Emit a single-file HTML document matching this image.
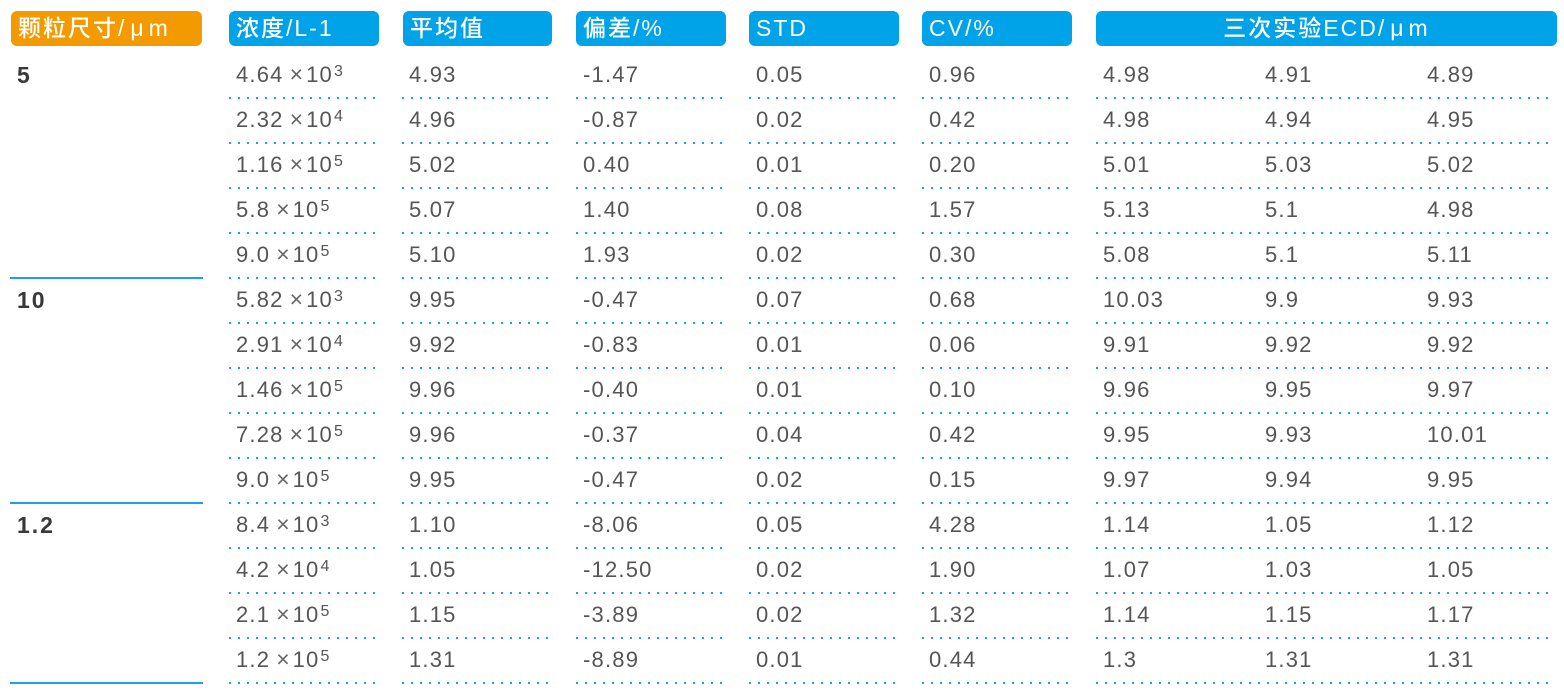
<!DOCTYPE html>
<html>
<head>
<meta charset="utf-8">
<style>
html,body{margin:0;padding:0;background:#fff;}
body{width:1564px;height:700px;position:relative;overflow:hidden;font-family:"Liberation Sans","Noto Sans CJK SC",sans-serif;}
.h{position:absolute;top:11px;height:35px;line-height:35px;border-radius:6px;background:#00a2e8;color:#fff;font-size:23px;font-weight:500;letter-spacing:2px;padding-left:7px;box-sizing:border-box;white-space:nowrap;font-family:"Liberation Sans","Noto Sans CJK SC",sans-serif;}
.h.o{background:#f39a00;}
.mu{margin:0 3px 0 4px;}
.row{position:absolute;left:0;width:1564px;height:45px;}
.t{position:absolute;top:10px;line-height:24px;font-size:22px;letter-spacing:1.2px;color:#555;white-space:nowrap;}
.g{position:absolute;top:10px;left:17px;line-height:24px;font-size:23px;font-weight:bold;color:#383838;letter-spacing:2px;}
.x{font-family:"Liberation Sans",sans-serif;font-size:23px;letter-spacing:0;margin-left:6px;margin-right:3px;line-height:20px;color:#666;}
.s{font-size:16px;position:relative;top:-6px;letter-spacing:0;margin-left:1px;}
.d{position:absolute;top:44px;height:2px;background:linear-gradient(to right,#1ba1e6 0,#1ba1e6 2px,transparent 2px,transparent 9px);background-size:9px 2px;background-repeat:repeat-x;}
.d1{left:229px;width:149px;}
.d2{left:402px;width:150px;}
.d3{left:576px;width:150px;}
.d4{left:749px;width:150px;}
.d5{left:922px;width:150px;}
.d6{left:1096px;width:458px;}
.c1{left:236px}.c2{left:409px}.c3{left:583px}.c4{left:756px}.c5{left:929px}.e1{left:1103px}.e2{left:1265px}.e3{left:1427px}
.sl{position:absolute;left:10px;width:193px;height:2px;background:#1ba1e6;}
</style>
</head>
<body>
<div class="h o" style="left:11px;width:191px;">颗粒尺寸/<span class="mu">μ</span>m</div>
<div class="h" style="left:229px;width:150px;">浓度/L-1</div>
<div class="h" style="left:403px;width:149px;">平均值</div>
<div class="h" style="left:576px;width:150px;">偏差/%</div>
<div class="h" style="left:749px;width:150px;">STD</div>
<div class="h" style="left:922px;width:150px;">CV/%</div>
<div class="h" style="left:1096px;width:461px;padding-left:0;text-align:center;">三次实验ECD/<span class="mu">μ</span>m</div>

<div class="sl" style="top:277px"></div>
<div class="sl" style="top:502px"></div>
<div class="sl" style="top:682px"></div>

<div class="row" style="top:53px"><span class="g">5</span>
<span class="t c1">4.64<span class="x">×</span>10<span class="s">3</span></span><span class="t c2">4.93</span><span class="t c3">-1.47</span><span class="t c4">0.05</span><span class="t c5">0.96</span><span class="t e1">4.98</span><span class="t e2">4.91</span><span class="t e3">4.89</span>
<div class="d d1"></div><div class="d d2"></div><div class="d d3"></div><div class="d d4"></div><div class="d d5"></div><div class="d d6"></div></div>

<div class="row" style="top:98px">
<span class="t c1">2.32<span class="x">×</span>10<span class="s">4</span></span><span class="t c2">4.96</span><span class="t c3">-0.87</span><span class="t c4">0.02</span><span class="t c5">0.42</span><span class="t e1">4.98</span><span class="t e2">4.94</span><span class="t e3">4.95</span>
<div class="d d1"></div><div class="d d2"></div><div class="d d3"></div><div class="d d4"></div><div class="d d5"></div><div class="d d6"></div></div>

<div class="row" style="top:143px">
<span class="t c1">1.16<span class="x">×</span>10<span class="s">5</span></span><span class="t c2">5.02</span><span class="t c3">0.40</span><span class="t c4">0.01</span><span class="t c5">0.20</span><span class="t e1">5.01</span><span class="t e2">5.03</span><span class="t e3">5.02</span>
<div class="d d1"></div><div class="d d2"></div><div class="d d3"></div><div class="d d4"></div><div class="d d5"></div><div class="d d6"></div></div>

<div class="row" style="top:188px">
<span class="t c1">5.8<span class="x">×</span>10<span class="s">5</span></span><span class="t c2">5.07</span><span class="t c3">1.40</span><span class="t c4">0.08</span><span class="t c5">1.57</span><span class="t e1">5.13</span><span class="t e2">5.1</span><span class="t e3">4.98</span>
<div class="d d1"></div><div class="d d2"></div><div class="d d3"></div><div class="d d4"></div><div class="d d5"></div><div class="d d6"></div></div>

<div class="row" style="top:233px">
<span class="t c1">9.0<span class="x">×</span>10<span class="s">5</span></span><span class="t c2">5.10</span><span class="t c3">1.93</span><span class="t c4">0.02</span><span class="t c5">0.30</span><span class="t e1">5.08</span><span class="t e2">5.1</span><span class="t e3">5.11</span>
<div class="d d1"></div><div class="d d2"></div><div class="d d3"></div><div class="d d4"></div><div class="d d5"></div><div class="d d6"></div></div>

<div class="row" style="top:278px"><span class="g">10</span>
<span class="t c1">5.82<span class="x">×</span>10<span class="s">3</span></span><span class="t c2">9.95</span><span class="t c3">-0.47</span><span class="t c4">0.07</span><span class="t c5">0.68</span><span class="t e1">10.03</span><span class="t e2">9.9</span><span class="t e3">9.93</span>
<div class="d d1"></div><div class="d d2"></div><div class="d d3"></div><div class="d d4"></div><div class="d d5"></div><div class="d d6"></div></div>

<div class="row" style="top:323px">
<span class="t c1">2.91<span class="x">×</span>10<span class="s">4</span></span><span class="t c2">9.92</span><span class="t c3">-0.83</span><span class="t c4">0.01</span><span class="t c5">0.06</span><span class="t e1">9.91</span><span class="t e2">9.92</span><span class="t e3">9.92</span>
<div class="d d1"></div><div class="d d2"></div><div class="d d3"></div><div class="d d4"></div><div class="d d5"></div><div class="d d6"></div></div>

<div class="row" style="top:368px">
<span class="t c1">1.46<span class="x">×</span>10<span class="s">5</span></span><span class="t c2">9.96</span><span class="t c3">-0.40</span><span class="t c4">0.01</span><span class="t c5">0.10</span><span class="t e1">9.96</span><span class="t e2">9.95</span><span class="t e3">9.97</span>
<div class="d d1"></div><div class="d d2"></div><div class="d d3"></div><div class="d d4"></div><div class="d d5"></div><div class="d d6"></div></div>

<div class="row" style="top:413px">
<span class="t c1">7.28<span class="x">×</span>10<span class="s">5</span></span><span class="t c2">9.96</span><span class="t c3">-0.37</span><span class="t c4">0.04</span><span class="t c5">0.42</span><span class="t e1">9.95</span><span class="t e2">9.93</span><span class="t e3">10.01</span>
<div class="d d1"></div><div class="d d2"></div><div class="d d3"></div><div class="d d4"></div><div class="d d5"></div><div class="d d6"></div></div>

<div class="row" style="top:458px">
<span class="t c1">9.0<span class="x">×</span>10<span class="s">5</span></span><span class="t c2">9.95</span><span class="t c3">-0.47</span><span class="t c4">0.02</span><span class="t c5">0.15</span><span class="t e1">9.97</span><span class="t e2">9.94</span><span class="t e3">9.95</span>
<div class="d d1"></div><div class="d d2"></div><div class="d d3"></div><div class="d d4"></div><div class="d d5"></div><div class="d d6"></div></div>

<div class="row" style="top:503px"><span class="g">1.2</span>
<span class="t c1">8.4<span class="x">×</span>10<span class="s">3</span></span><span class="t c2">1.10</span><span class="t c3">-8.06</span><span class="t c4">0.05</span><span class="t c5">4.28</span><span class="t e1">1.14</span><span class="t e2">1.05</span><span class="t e3">1.12</span>
<div class="d d1"></div><div class="d d2"></div><div class="d d3"></div><div class="d d4"></div><div class="d d5"></div><div class="d d6"></div></div>

<div class="row" style="top:548px">
<span class="t c1">4.2<span class="x">×</span>10<span class="s">4</span></span><span class="t c2">1.05</span><span class="t c3">-12.50</span><span class="t c4">0.02</span><span class="t c5">1.90</span><span class="t e1">1.07</span><span class="t e2">1.03</span><span class="t e3">1.05</span>
<div class="d d1"></div><div class="d d2"></div><div class="d d3"></div><div class="d d4"></div><div class="d d5"></div><div class="d d6"></div></div>

<div class="row" style="top:593px">
<span class="t c1">2.1<span class="x">×</span>10<span class="s">5</span></span><span class="t c2">1.15</span><span class="t c3">-3.89</span><span class="t c4">0.02</span><span class="t c5">1.32</span><span class="t e1">1.14</span><span class="t e2">1.15</span><span class="t e3">1.17</span>
<div class="d d1"></div><div class="d d2"></div><div class="d d3"></div><div class="d d4"></div><div class="d d5"></div><div class="d d6"></div></div>

<div class="row" style="top:638px">
<span class="t c1">1.2<span class="x">×</span>10<span class="s">5</span></span><span class="t c2">1.31</span><span class="t c3">-8.89</span><span class="t c4">0.01</span><span class="t c5">0.44</span><span class="t e1">1.3</span><span class="t e2">1.31</span><span class="t e3">1.31</span>
<div class="d d1"></div><div class="d d2"></div><div class="d d3"></div><div class="d d4"></div><div class="d d5"></div><div class="d d6"></div></div>
</body>
</html>
